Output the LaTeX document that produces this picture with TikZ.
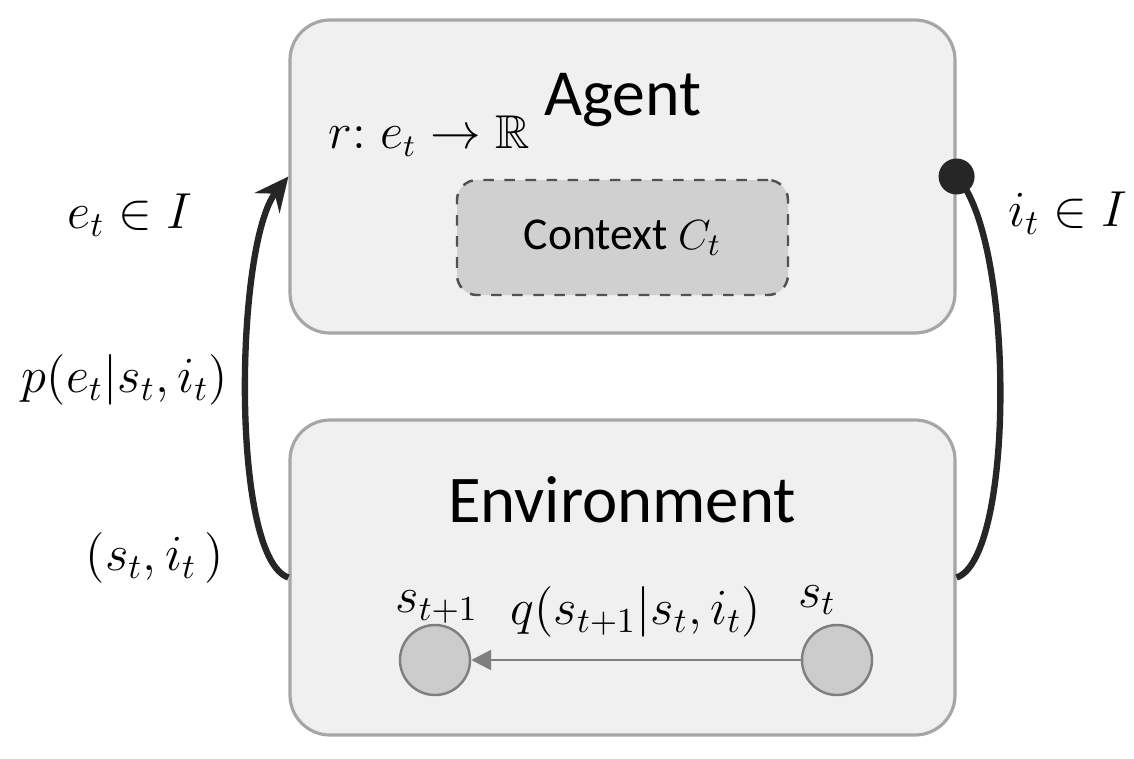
\documentclass[tikz,border=0pt]{standalone}
\usepackage{amsmath,amssymb}
\usepackage{fontspec}
\setmainfont{Carlito}
\usepackage{xcolor,tikz}
\usetikzlibrary{arrows.meta,positioning}
\definecolor{boxfill}{HTML}{F0F0F0}
\definecolor{boxline}{HTML}{A6A6A6}
\definecolor{ctxfill}{HTML}{D0D0D0}
\definecolor{statefill}{HTML}{CCCCCC}
\definecolor{stateline}{HTML}{7F7F7F}
\definecolor{flow}{HTML}{262626}

\begin{document}
\begin{tikzpicture}[
  panel/.style={draw=boxline,fill=boxfill,line width=0.9pt,rounded corners=4mm,minimum width=6.65cm},
  state/.style={circle,draw=stateline,fill=statefill,line width=0.7pt,minimum size=0.7cm,inner sep=0pt},
  lbl/.style={font=\fontsize{14}{16}\selectfont},
  loop/.style={draw=flow,line width=1.8pt}]
\useasboundingbox (0,0) rectangle (11.34,7.58);
\node[panel,minimum height=3.13cm] (agent) at (6.225,5.815) {};
\node[panel,minimum height=3.15cm] (env) at (6.225,1.805) {};
\node[draw=flow!80,dashed,fill=ctxfill,line width=0.7pt,rounded corners=2mm,minimum width=3.31cm,minimum height=1.15cm,font=\fontsize{13}{15}\selectfont] (context) at (6.225,5.205) {Context $C_t$};
\node[font=\fontsize{18.7}{22}\selectfont] (agentname) at (6.23,6.58) {Agent};
\node[font=\fontsize{19}{22}\selectfont] (envname) at (6.22,2.58) {Environment};
\node[font=\fontsize{13.5}{16}\selectfont] (reward) at (4.29,6.22) {$r{:}\;e_t \rightarrow \mathbb{R}$};
\node[state] (snext) at (4.35,0.98) {};
\node[state] (scur) at (8.37,0.98) {};
\node[lbl] (snextlbl) at (4.37,1.51) {$s_{t+1}$};
\node[lbl] (scurlbl) at (8.17,1.58) {$s_t$};
\draw[stateline,line width=0.7pt,-{Triangle[length=2mm,width=2mm]}] (scur) -- node[lbl,above=1mm,text=black] (trans) {$q(s_{t+1}|s_t,i_t)$} (snext);
\fill[flow] (agent.east) circle (0.18) coordinate (act);
\draw[loop,-{Stealth[length=3.4mm,width=3.2mm,inset=1.2mm]}] (env.west) .. controls (2.3,2.0) and (2.35,5.15) .. (agent.west);
\draw[loop] (act) .. controls (10.15,5.2) and (10.15,2.0) .. (env.east);
\node[lbl] (obs) at (1.30,5.43) {$e_t \in I$};
\node[lbl] (emit) at (1.25,3.78) {$p(e_t|s_t,i_t)$};
\node[lbl] (pair) at (1.55,2.0) {$(s_t,i_t\,)$};
\node[lbl] (inp) at (10.68,5.45) {$i_t \in I$};
\end{tikzpicture}
\end{document}
